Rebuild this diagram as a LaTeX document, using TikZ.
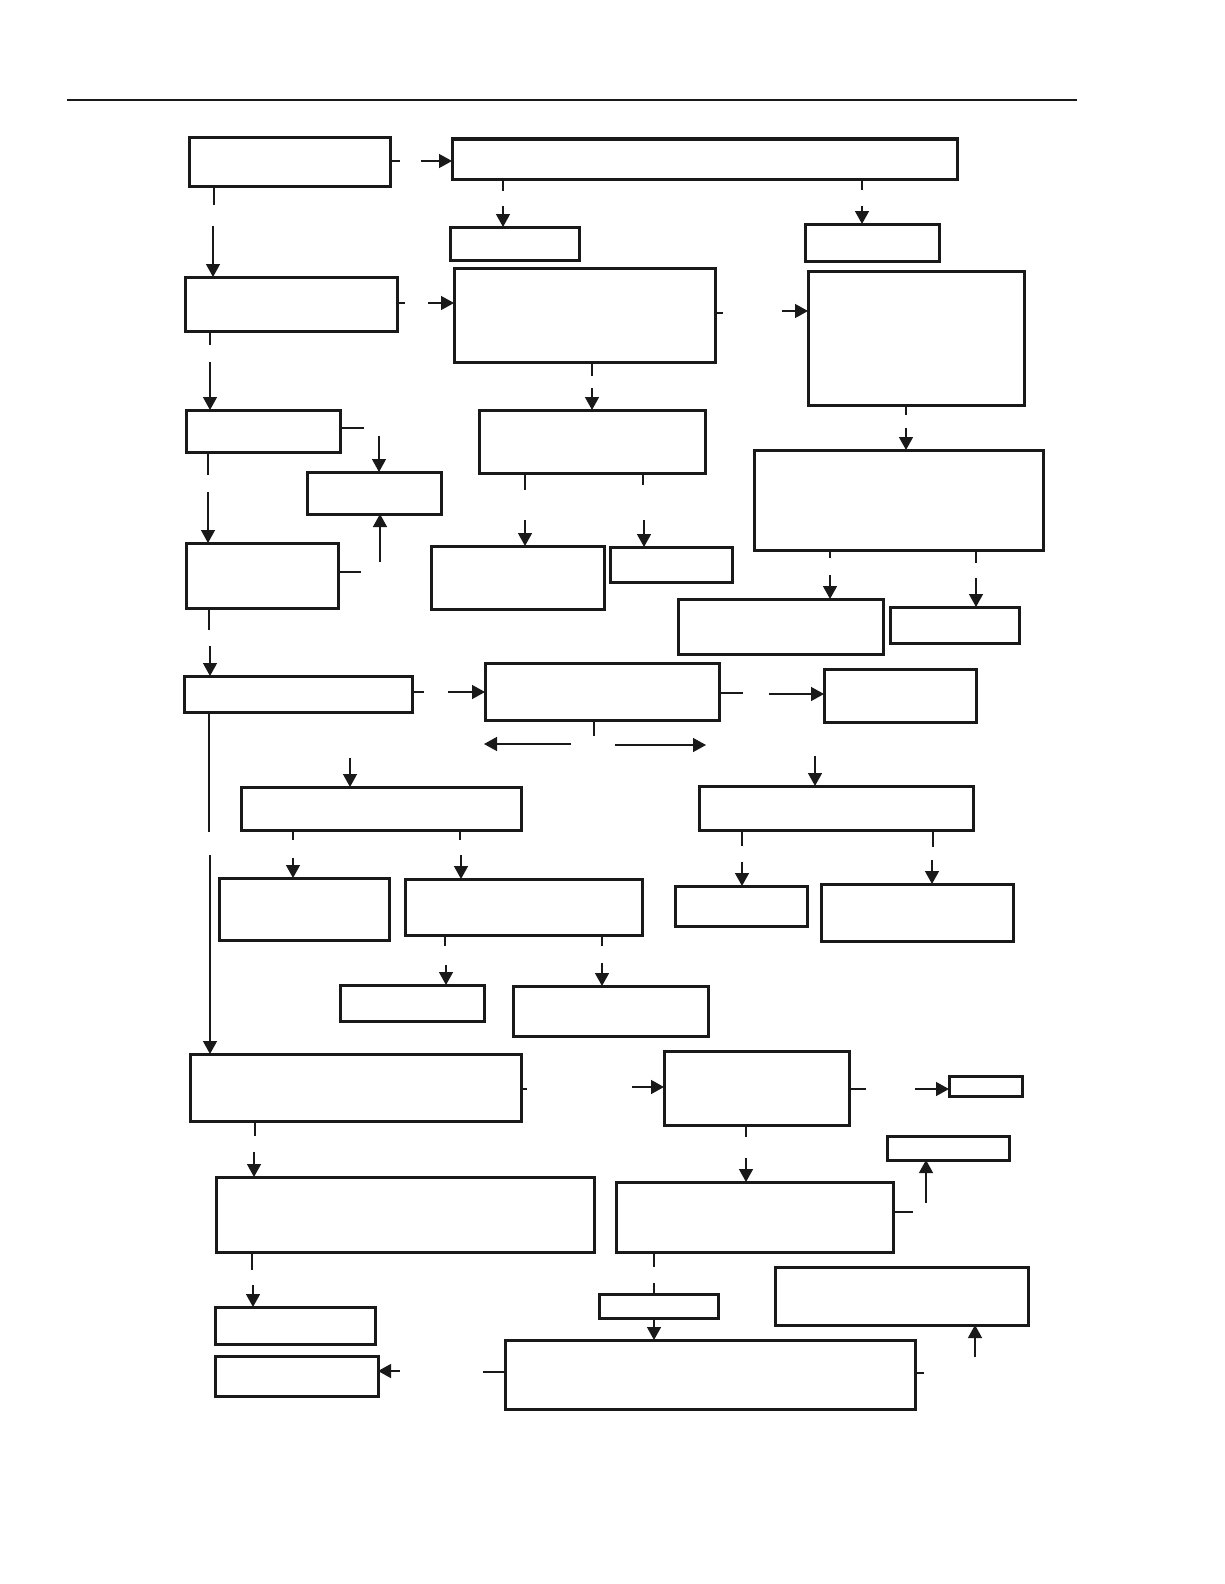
\documentclass[tikz,border=0pt]{standalone}
\usetikzlibrary{arrows.meta}
\begin{document}
\begin{tikzpicture}[x=1pt,y=-1pt,
  box/.style={draw=black!90,line width=3pt,inner sep=0pt,outer sep=0pt,rectangle},
  ln/.style={line width=1.4pt,black!90},
  arr/.style={ln,-{Triangle[length=13pt,width=14pt]}},
  rule/.style={line width=1.8pt,black!90}]
\useasboundingbox (0,0) rectangle (1224,1584);
\newcommand{\bx}[5]{\node[box,minimum width={#4-#2},minimum height={#5-#3}] (#1) at ({(#2+#4)/2},{(#3+#5)/2}) {};}
% top rule
\coordinate (r1) at (67,100); \coordinate (r2) at (1077,100);
\draw[rule] (r1) -- (r2);
% boxes
\bx{B1}{189}{138}{390}{186}
\bx{B2}{452}{139}{957}{179}
\bx{B3}{450}{227}{579}{260}
\bx{B4}{805}{224}{939}{261}
\bx{B5}{185}{277}{397}{331}
\bx{B6}{454}{268}{715}{362}
\bx{B7}{808}{271}{1024}{405}
\bx{B8}{186}{410}{340}{452}
\bx{B9}{307}{472}{441}{514}
\bx{B10}{479}{410}{705}{473}
\bx{B11}{754}{450}{1043}{550}
\bx{B12}{186}{543}{338}{608}
\bx{B13}{431}{546}{604}{609}
\bx{B14}{610}{547}{732}{582}
\bx{B15}{678}{599}{883}{654}
\bx{B16}{890}{607}{1019}{643}
\bx{B17}{184}{676}{412}{712}
\bx{B18}{485}{663}{719}{720}
\bx{B19}{824}{669}{976}{722}
\bx{B20}{241}{787}{521}{830}
\bx{B21}{699}{786}{973}{830}
\bx{B22}{219}{878}{389}{940}
\bx{B23}{405}{879}{642}{935}
\bx{B24}{675}{886}{807}{926}
\bx{B25}{821}{884}{1013}{941}
\bx{B26}{340}{985}{484}{1021}
\bx{B27}{513}{986}{708}{1036}
\bx{B28}{190}{1054}{521}{1121}
\bx{B29}{664}{1051}{849}{1125}
\bx{B30}{949}{1076}{1022}{1096}
\bx{B31}{887}{1136}{1009}{1160}
\bx{B32}{216}{1177}{594}{1252}
\bx{B33}{616}{1182}{893}{1252}
\bx{B34}{775}{1267}{1028}{1325}
\bx{B35}{215}{1307}{375}{1344}
\bx{B36}{215}{1356}{378}{1396}
\bx{B37}{599}{1294}{718}{1318}
\bx{B38}{505}{1340}{915}{1409}
% free coordinates of split arrows
\coordinate (sl) at (571,744); \coordinate (slE) at (484,744);
\coordinate (sr) at (615,745); \coordinate (srE) at (706,745);
% connectors: stub from source, gap, arrow to target
\draw[ln] (B1.east |- 0,161) -- ++(10,0);  \draw[arr] (421,161) -- (B2.west |- 0,161);
\draw[ln] (B1.south -| 214,0) -- ++(0,19); \draw[arr] (213,226) -- (B5.north -| 213,0);
\draw[ln] (B2.south -| 503,0) -- ++(0,12); \draw[arr] (503,206) -- (B3.north -| 503,0);
\draw[ln] (B2.south -| 862,0) -- ++(0,11); \draw[arr] (862,206) -- (B4.north -| 862,0);
\draw[ln] (B5.east |- 0,303) -- ++(8,0);   \draw[arr] (428,303) -- (B6.west |- 0,303);
\draw[ln] (B6.east |- 0,313) -- ++(8,0);   \draw[arr] (782,311) -- (B7.west |- 0,311);
\draw[ln] (B5.south -| 210,0) -- ++(0,14); \draw[arr] (210,362) -- (B8.north -| 210,0);
\draw[ln] (B6.south -| 592,0) -- ++(0,14); \draw[arr] (592,388) -- (B10.north -| 592,0);
\draw[ln] (B7.south -| 906,0) -- ++(0,10); \draw[arr] (906,428) -- (B11.north -| 906,0);
\draw[ln] (B8.east |- 0,428) -- ++(24,0);  \draw[arr] (379,436) -- (B9.north -| 379,0);
\draw[ln] (B12.east |- 0,572) -- ++(23,0); \draw[arr] (380,562) -- (B9.south -| 380,0);
\draw[ln] (B8.south -| 208,0) -- ++(0,23); \draw[arr] (208,492) -- (B12.north -| 208,0);
\draw[ln] (B10.south -| 525,0) -- ++(0,17); \draw[arr] (525,520) -- (B13.north -| 525,0);
\draw[ln] (B10.south -| 643,0) -- ++(0,12); \draw[arr] (644,520) -- (B14.north -| 644,0);
\draw[ln] (B11.south -| 830,0) -- ++(0,8);  \draw[arr] (830,575) -- (B15.north -| 830,0);
\draw[ln] (B11.south -| 976,0) -- ++(0,13); \draw[arr] (976,578) -- (B16.north -| 976,0);
\draw[ln] (B12.south -| 209,0) -- ++(0,22); \draw[arr] (210,646) -- (B17.north -| 210,0);
\draw[ln] (B17.east |- 0,692) -- ++(12,0); \draw[arr] (448,692) -- (B18.west |- 0,692);
\draw[ln] (B18.east |- 0,693) -- ++(24,0); \draw[arr] (769,694) -- (B19.west |- 0,694);
\draw[ln] (B18.south -| 594,0) -- ++(0,16);
\draw[arr] (sl) -- (slE);
\draw[arr] (sr) -- (srE);
\draw[arr] (350,758) -- (B20.north -| 350,0);
\draw[arr] (815,756) -- (B21.north -| 815,0);
\draw[ln] (B17.south -| 209,0) -- (209,832); \draw[arr] (210,855) -- (B28.north -| 210,0);
\draw[ln] (B20.south -| 293,0) -- ++(0,10); \draw[arr] (293,858) -- (B22.north -| 293,0);
\draw[ln] (B20.south -| 460,0) -- ++(0,10); \draw[arr] (461,855) -- (B23.north -| 461,0);
\draw[ln] (B21.south -| 742,0) -- ++(0,16); \draw[arr] (742,862) -- (B24.north -| 742,0);
\draw[ln] (B21.south -| 933,0) -- ++(0,17); \draw[arr] (932,860) -- (B25.north -| 932,0);
\draw[ln] (B23.south -| 445,0) -- ++(0,11); \draw[arr] (446,965) -- (B26.north -| 446,0);
\draw[ln] (B23.south -| 602,0) -- ++(0,11); \draw[arr] (602,963) -- (B27.north -| 602,0);
\draw[ln] (B28.east |- 0,1089) -- ++(6,0); \draw[arr] (632,1087) -- (B29.west |- 0,1087);
\draw[ln] (B29.east |- 0,1089) -- ++(17,0); \draw[arr] (915,1089) -- (B30.west |- 0,1089);
\draw[ln] (B33.east |- 0,1212) -- ++(20,0); \draw[arr] (926,1203) -- (B31.south -| 926,0);
\draw[ln] (B28.south -| 255,0) -- ++(0,15); \draw[arr] (254,1152) -- (B32.north -| 254,0);
\draw[ln] (B29.south -| 746,0) -- ++(0,12); \draw[arr] (746,1158) -- (B33.north -| 746,0);
\draw[ln] (B32.south -| 252,0) -- ++(0,18); \draw[arr] (253,1285) -- (B35.north -| 253,0);
\draw[ln] (B33.south -| 654,0) -- ++(0,15); \draw[ln] (654,1283) -- (B37.north -| 654,0);
\draw[arr] (B37.south -| 654,0) -- (B38.north -| 654,0);
\draw[ln] (B38.west |- 0,1372) -- ++(-22,0); \draw[arr] (400,1371) -- (B36.east |- 0,1371);
\draw[ln] (B38.east |- 0,1373) -- ++(9,0); \draw[arr] (975,1357) -- (B34.south -| 975,0);
\end{tikzpicture}
\end{document}
